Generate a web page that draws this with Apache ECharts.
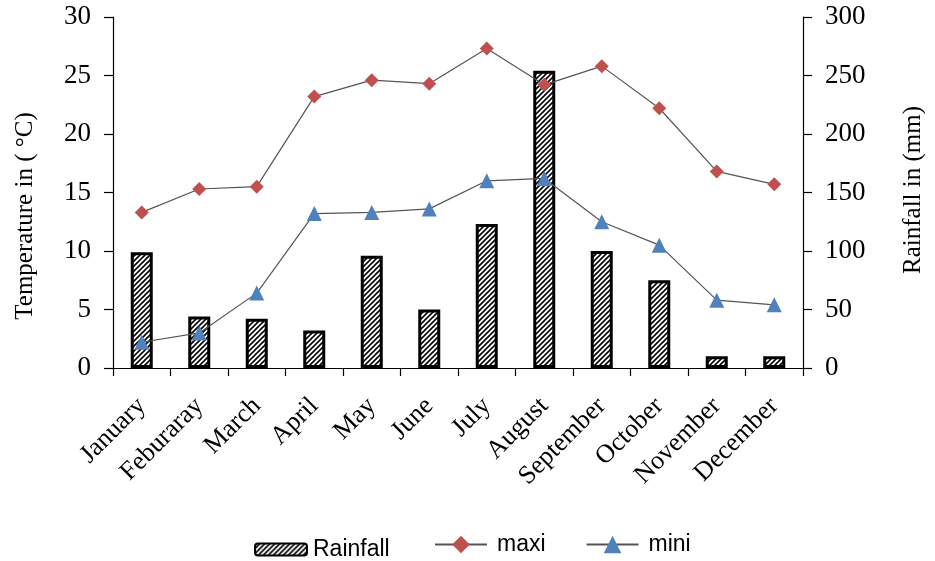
<!DOCTYPE html>
<html>
<head>
<meta charset="utf-8">
<script src="https://cdn.jsdelivr.net/npm/echarts@6/dist/echarts.min.js"></script>
<style>
  html, body { margin: 0; padding: 0; background: #fff; }
  #chart { width: 935px; height: 561px; }
</style>
</head>
<body>
<div id="chart"></div>
<script>
const months = ['January', 'Feburaray', 'March', 'April', 'May', 'June', 'July',
  'August', 'September', 'October', 'November', 'December'];
const rainfall = [99, 44, 42, 32, 96, 50, 123, 254, 100, 75, 10, 10];
const maxi = [13.3, 15.3, 15.5, 23.2, 24.6, 24.3, 27.3, 24.2, 25.8, 22.2, 16.8, 15.7];
const mini = [2.2, 3.0, 6.4, 13.2, 13.3, 13.6, 16.0, 16.2, 12.5, 10.5, 5.8, 5.4];
const tempTicks = [0, 5, 10, 15, 20, 25, 30];
const rainTicks = [0, 50, 100, 150, 200, 250, 300];
const tempTitle = 'Temperature in ( °C)';
const rainTitle = 'Rainfall in (mm)';

// Diagonal hatch fill for the rainfall bars
function hatch() {
  const s = 5;
  const c = document.createElement('canvas');
  c.width = s; c.height = s;
  const g = c.getContext('2d');
  g.fillStyle = '#fff';
  g.fillRect(0, 0, s, s);
  g.strokeStyle = '#000';
  g.lineWidth = 1.6;
  g.beginPath();
  g.moveTo(-1, s + 1); g.lineTo(s + 1, -1);
  g.moveTo(-1, 1); g.lineTo(1, -1);
  g.moveTo(s - 1, s + 1); g.lineTo(s + 1, s - 1);
  g.stroke();
  return c;
}

const serif = 'Liberation Serif';
const axisLine = { show: true, lineStyle: { color: '#000', width: 1.2 } };
const axisTick = { show: true, length: 9, lineStyle: { color: '#000', width: 1.2 } };
const legendText = { fontFamily: 'Liberation Sans', fontSize: 23, color: '#000', padding: [0, 0, 0, 5] };

const chart = echarts.init(document.getElementById('chart'));
chart.setOption({
  animation: false,
  backgroundColor: '#fff',
  grid: { left: 113, right: 132, top: 17, bottom: 193, containLabel: false },
  legend: [
    {
      left: 249, top: 533,
      itemWidth: 52, itemHeight: 12,
      textStyle: { fontFamily: 'Liberation Sans', fontSize: 23, color: '#000', padding: [0, 0, 0, 1] },
      data: ['Rainfall']
    },
    {
      left: 429, top: 528,
      itemWidth: 52, itemHeight: 22, itemGap: 40,
      textStyle: legendText,
      data: ['maxi', 'mini']
    }
  ],
  graphic: [
    {
      type: 'text', x: 25, y: 216, rotation: Math.PI / 2,
      style: { text: tempTitle, font: '25px "Liberation Serif"', fill: '#000',
        textAlign: 'center', textVerticalAlign: 'middle' }
    },
    {
      type: 'text', x: 913, y: 190, rotation: Math.PI / 2,
      style: { text: rainTitle, font: '25px "Liberation Serif"', fill: '#000',
        textAlign: 'center', textVerticalAlign: 'middle' }
    }
  ],
  xAxis: {
    type: 'category',
    data: months,
    axisLine, axisTick: Object.assign({}, axisTick, { length: 8 }),
    axisLabel: { rotate: 45, margin: 34, fontFamily: serif, fontSize: 26, color: '#000' }
  },
  yAxis: [
    {
      type: 'value', min: tempTicks[0], max: tempTicks[tempTicks.length - 1], interval: 5,
      axisLine, axisTick, splitLine: { show: false },
      axisLabel: { margin: 22, fontFamily: serif, fontSize: 27, color: '#000' }
    },
    {
      type: 'value', min: rainTicks[0], max: rainTicks[rainTicks.length - 1], interval: 50,
      axisLine, axisTick, splitLine: { show: false },
      axisLabel: { margin: 22, fontFamily: serif, fontSize: 27, color: '#000' }
    }
  ],
  series: [
    {
      name: 'Rainfall', type: 'bar', yAxisIndex: 1, data: rainfall,
      barWidth: 22,
      itemStyle: { color: { image: hatch(), repeat: 'repeat' }, borderColor: '#000', borderWidth: 3 }
    },
    {
      name: 'maxi', type: 'line', yAxisIndex: 0, data: maxi,
      symbol: 'diamond', symbolSize: 14,
      lineStyle: { color: '#555', width: 1.2 },
      itemStyle: { color: '#C0504D' }
    },
    {
      name: 'mini', type: 'line', yAxisIndex: 0, data: mini,
      symbol: 'triangle', symbolSize: 15,
      lineStyle: { color: '#555', width: 1.2 },
      itemStyle: { color: '#4F81BD' }
    }
  ]
});
</script>
</body>
</html>
